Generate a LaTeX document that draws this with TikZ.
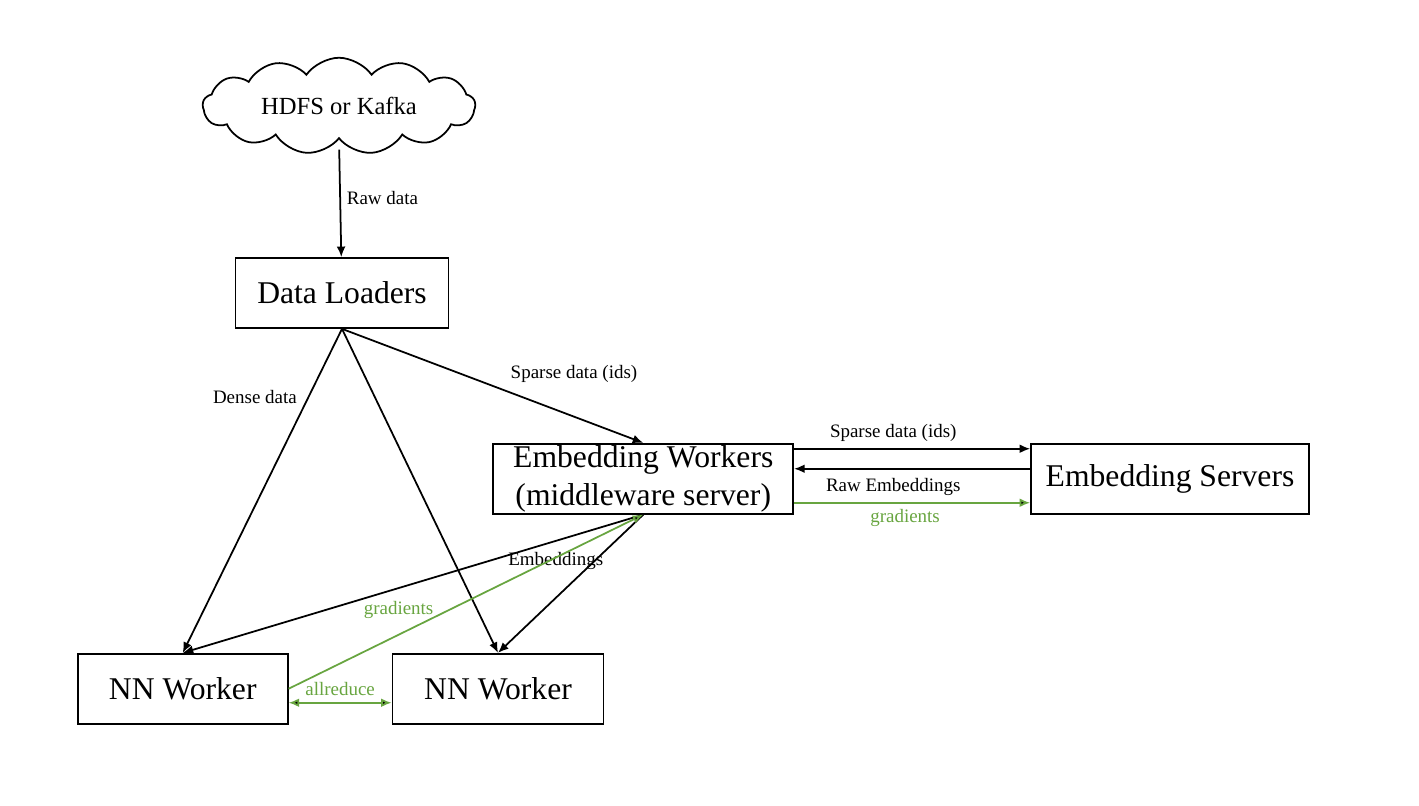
\documentclass[tikz,border=0pt]{standalone}
\usepackage{fontspec}
\setmainfont{Liberation Serif}
\usetikzlibrary{arrows.meta,positioning,shapes.symbols}
\definecolor{gradgreen}{RGB}{104,165,64}

\begin{document}
\begin{tikzpicture}[>={Latex[length=6pt,width=5pt]}, line width=1pt]
        \tikzset{
            block/.style= {
                draw,
                shape=rectangle,
                align=center,
                font=\fontsize{18}{21.5}\selectfont,
                minimum height=1.4cm,
                inner sep=0pt
            },
            lbl/.style= {
                font=\fontsize{10.8}{12}\selectfont
            },
            grad/.style= {
                draw=gradgreen,
                text=gradgreen
            },
        }
        \useasboundingbox (0,0) rectangle (28.38,16.12);
        \node [block, minimum width=4.26cm] (loaders) at (6.84,10.26)
            {Data Loaders};
        \node [draw, cloud, cloud puffs=13, cloud puff arc=110, aspect=3.1,
            minimum width=5.45cm, minimum height=1.45cm, inner sep=0pt,
            font=\fontsize{14}{16}\selectfont] (source) at (6.78,14.0)
            {HDFS or Kafka};
        \node [block, minimum width=6cm, below right =2.28cm and 0.86cm of loaders] (workers)
            {Embedding Workers\\(middleware server)};
        \node [block, minimum width=5.56cm, right =4.72cm of workers] (servers)
            {Embedding Servers};
        \node [block, minimum width=4.2cm, below left =6.48cm and -1.08cm of loaders] (nn_a)
            {NN Worker};
        \node [block, minimum width=4.22cm, right =2.06cm of nn_a] (nn_b)
            {NN Worker};
%% paths
\path[draw, every edge/.append style={->}]
    (source.south) edge [shorten <=0.2cm] node [lbl, midway, right] {Raw data} (loaders)
    (loaders.south) edge node [lbl, pos=0.21, left, xshift=-0.1cm] {Dense data} (nn_a.north)
    (loaders.south) edge (nn_b.north)
    (loaders.south) edge node [lbl, pos=0.77, yshift=0.86cm] {Sparse data (ids)} (workers.north)
    ([yshift=0.6cm]workers.east) edge node [lbl, pos=0.42, above] {Sparse data (ids)} ([yshift=0.6cm]servers.west)
    ([yshift=0.2cm]servers.west) edge node [lbl, pos=0.58, below, yshift=-0.05cm] {Raw Embeddings} ([yshift=0.2cm]workers.east)
    (workers.south) edge node [lbl, pos=0.19, yshift=-0.4cm] {Embeddings} (nn_a.north)
    (workers.south) edge (nn_b.north)
;
\path[grad, every edge/.append style={->}]
    ([yshift=-0.48cm]workers.east) edge node [lbl, pos=0.47, below] {gradients} ([yshift=-0.48cm]servers.west)
    (nn_a.east) edge node [lbl, pos=0.31, yshift=0.5cm] {gradients} (workers.south)
    ([yshift=-0.28cm]nn_a.east) edge [<->] node [lbl, midway, above] {allreduce} ([yshift=-0.28cm]nn_b.west)
;
\end{tikzpicture}
\end{document}
